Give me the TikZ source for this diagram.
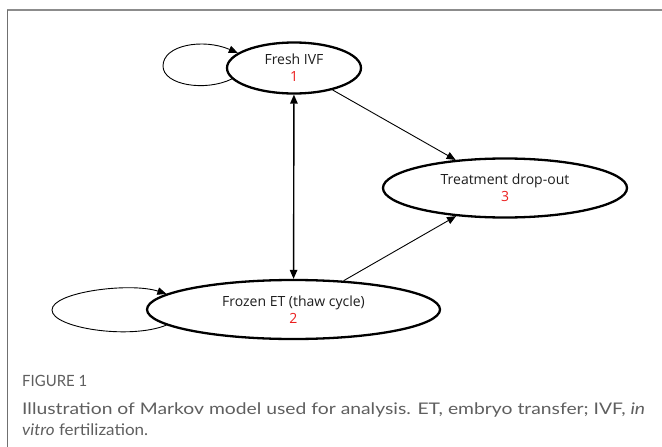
\documentclass[tikz,border=0pt]{standalone}
\usepackage{fontspec}
\setmainfont{Open Sans}
\newfontfamily\capfont{Lato}
\usetikzlibrary{shapes.geometric,arrows.meta}
\definecolor{framegray}{RGB}{140,140,140}
\definecolor{capgray}{RGB}{95,95,95}
\definecolor{numred}{RGB}{235,30,30}
\definecolor{txtdark}{RGB}{30,30,30}
\tikzset{
  state/.style={ellipse, draw=black, line width=2.3pt, inner sep=0pt, align=center,
    font=\fontsize{14}{17}\selectfont, text=txtdark},
  conn/.style={line width=0.9pt, -{Triangle[length=9pt,width=7.5pt]}},
  both/.style={line width=1.4pt, {Triangle[length=9pt,width=7.5pt]}-{Triangle[length=9pt,width=7.5pt]}},
  loopline/.style={line width=0.9pt, -{Triangle[length=9pt,width=7.5pt]}},
  captext/.style={anchor=base west, inner sep=0pt, text=capgray},
}
\begin{document}
\begin{tikzpicture}[x=1pt,y=-1pt]
\useasboundingbox (0,0) rectangle (662,447);
\fill[white] (0,0) rectangle (662,447);
% frame
\draw[framegray, line width=1.6pt] (7,10) -- (662,10);
\draw[framegray!80!black, line width=0.8pt] (7,10) -- (7,447);
% states
\node[state, minimum width=134pt, minimum height=51pt] (n1) at (294,68) {Fresh IVF\\\textcolor{numred}{1}};
\node[state, minimum width=293pt, minimum height=59pt] (n2) at (293.5,309.5) {Frozen ET (thaw cycle)\\\textcolor{numred}{2}};
\node[state, minimum width=244pt, minimum height=59pt] (n3) at (505,188) {Treatment drop-out\\\textcolor{numred}{3}};
% connectors
\draw[both] (n1) -- (n2);
\draw[conn] (n1) -- (n3);
\draw[conn] (n2) -- (n3);
% self loops
\draw[loopline] (n1.190) .. controls (205,92) and (163,85) .. (163,66)
  .. controls (163,45) and (203,38) .. (n1.165);
\draw[loopline] (n2.187) .. controls (130,340) and (52,328) .. (52,310)
  .. controls (52,292) and (130,282) .. (n2.173);
% caption
\node[captext, font=\capfont\fontsize{15.5}{18}\selectfont] (fig) at (22,386) {\resizebox{65pt}{\height}{FIGURE 1}};
\node[captext, font=\capfont\fontsize{16}{21}\selectfont] (cap1) at (22,414) {\resizebox{623pt}{\height}{Illustration of Markov model used for analysis. ET, embryo transfer; IVF, \textit{in}}};
\node[captext, font=\capfont\fontsize{16}{21}\selectfont] (cap2) at (22,435) {\resizebox{126pt}{\height}{\textit{vitro} fertilization.}};
\end{tikzpicture}
\end{document}
